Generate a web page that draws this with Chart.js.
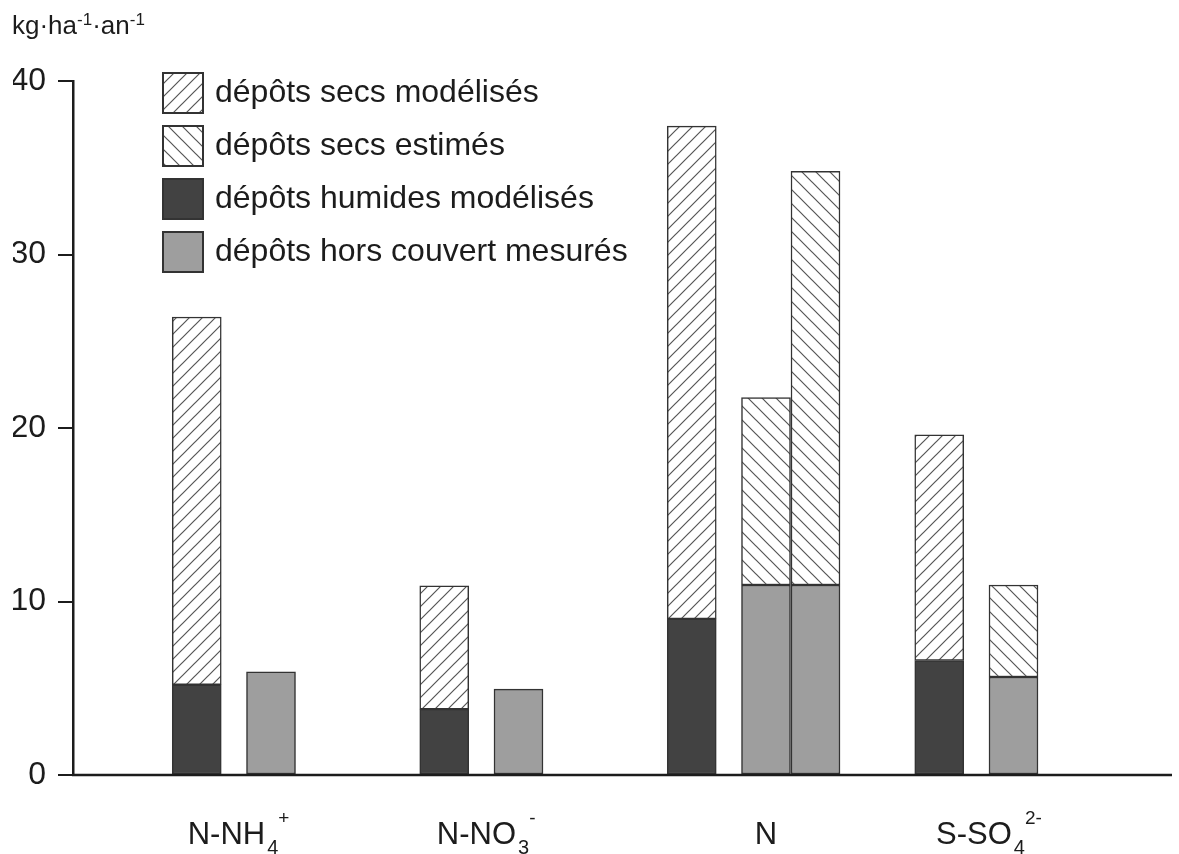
<!DOCTYPE html>
<html>
<head>
<meta charset="utf-8">
<script src="https://cdn.jsdelivr.net/npm/chart.js@4.4.0/dist/chart.umd.min.js"></script>
<style>
  html, body { margin: 0; padding: 0; background: #fff; }
  #wrap { width: 1179px; height: 854px; }
</style>
</head>
<body>
<div id="wrap"><canvas id="chart" width="1179" height="854"></canvas></div>
<script>
const categories = ['N-NH_{4}^{+}', 'N-NO_{3}^{-}', 'N', 'S-SO_{4}^{2-}'];
const yTicks = [0, 10, 20, 30, 40];
const yTitle = 'kg·ha^{-1}·an^{-1}';

// first bar of each group (humides + secs modélisés)
const humidesModelises = [5.2, 3.8, 9.0, 6.6];
const secsModelises = [21.2, 7.1, 28.4, 13.0];
// second bars (hors couvert + secs estimés), N has two of them
const horsCouvertMesures = [5.95, 4.95, 10.95, 10.95, 5.65];
const secsEstimes = [null, null, 10.8, 23.85, 5.3];

// x axis is split into narrow slots, bars sit on these slots
const slotCount = 45;
const firstBarSlots = [5, 15, 25, 35];
const secondBarSlots = [8, 18, 28, 30, 38];
const labelSlots = [6.2, 16.3, 28, 36.4];
const legendOrder = [2, 3, 0, 1];

const FONT = '"Liberation Sans", Arial, sans-serif';
const INK = '#1c1c1c';

const slotData = (values, slots) => {
    const out = new Array(slotCount).fill(null);
    slots.forEach((s, i) => { out[s] = values[i]; });
    return out;
};

const hatch = (dir, size) => {
    const c = document.createElement('canvas');
    c.width = c.height = size;
    const g = c.getContext('2d');
    g.fillStyle = '#fff';
    g.fillRect(0, 0, size, size);
    g.strokeStyle = '#555';
    g.lineWidth = 1.2;
    g.beginPath();
    if (dir === '/') {
        g.moveTo(-1, size + 1); g.lineTo(size + 1, -1);
        g.moveTo(-2, 2); g.lineTo(2, -2);
        g.moveTo(size - 2, size + 2); g.lineTo(size + 2, size - 2);
    } else {
        g.moveTo(-1, -1); g.lineTo(size + 1, size + 1);
        g.moveTo(size - 2, -2); g.lineTo(size + 2, 2);
        g.moveTo(-2, size - 2); g.lineTo(2, size + 2);
    }
    g.stroke();
    return g.createPattern(c, 'repeat');
};

// "N-NH_{4}^{+}" -> [{t:'N-NH',k:''},{t:'4',k:'sub'},{t:'+',k:'sup'}]
const parseRich = (str) => str.split(/(_\{[^}]*\}|\^\{[^}]*\})/).filter(Boolean).map(p => {
    if (p[0] === '_') return { t: p.slice(2, -1), k: 'sub' };
    if (p[0] === '^') return { t: p.slice(2, -1), k: 'sup' };
    return { t: p, k: '' };
});

const drawRich = (ctx, str, x, y, o) => {
    const parts = parseRich(str);
    const fontFor = k => (k === 'sub' ? o.sub : k === 'sup' ? o.sup : o.size) + 'px ' + FONT;
    ctx.font = fontFor('');
    let cx = o.center ? x - ctx.measureText(parts[0].t).width / 2 : x;
    let prev = '';
    parts.forEach(p => {
        ctx.font = fontFor(p.k);
        let dy = 0;
        if (p.k === 'sub') dy = o.subDy;
        if (p.k === 'sup') dy = o.supDy;
        if (p.k === 'sup' && prev === 'sub') cx -= 2;
        ctx.fillText(p.t, cx + (p.k ? o.gap : 0), y + dy);
        cx += ctx.measureText(p.t).width + (p.k ? o.gap : 0);
        prev = p.k;
    });
};

const decorations = {
    id: 'decorations',
    afterDraw(chart) {
        const { ctx, chartArea } = chart;
        const xs = chart.scales.x;
        const ys = chart.scales.y;
        ctx.save();
        ctx.fillStyle = INK;
        ctx.textBaseline = 'alphabetic';
        ctx.textAlign = 'left';

        // x axis base line
        const y0 = ys.getPixelForValue(0);
        ctx.strokeStyle = INK;
        ctx.lineWidth = 2.5;
        ctx.beginPath();
        ctx.moveTo(chartArea.left - 1, y0);
        ctx.lineTo(chart.width - 7, y0);
        ctx.stroke();

        // category labels
        categories.forEach((c, i) => {
            drawRich(ctx, c, xs.getPixelForValue(labelSlots[i]), chartArea.bottom + 69,
                { size: 31, sub: 20, sup: 19, subDy: 10, supDy: -20, gap: 2, center: true });
        });

        // unit above the y axis
        drawRich(ctx, yTitle, 12, 34, { size: 26, sub: 17, sup: 17, subDy: 5, supDy: -9, gap: 0 });

        // legend
        const lx = chartArea.left + 90;
        legendOrder.forEach((di, row) => {
            const ds = chart.data.datasets[di];
            const top = chartArea.top - 8 + row * 53;
            ctx.fillStyle = ds.backgroundColor;
            ctx.fillRect(lx, top, 40, 40);
            ctx.strokeStyle = '#333';
            ctx.lineWidth = 2;
            ctx.strokeRect(lx, top, 40, 40);
            ctx.fillStyle = INK;
            ctx.font = '32px ' + FONT;
            ctx.textBaseline = 'middle';
            ctx.fillText(ds.label, lx + 52, top + 20);
        });
        ctx.restore();
    }
};

const barStyle = { borderColor: '#333', borderWidth: 1.5, borderSkipped: false, barThickness: 49 };

new Chart(document.getElementById('chart').getContext('2d'), {
    type: 'bar',
    data: {
        labels: new Array(slotCount).fill(''),
        datasets: [
            { label: 'dépôts humides modélisés', data: slotData(humidesModelises, firstBarSlots), backgroundColor: '#424242', ...barStyle },
            { label: 'dépôts hors couvert mesurés', data: slotData(horsCouvertMesures, secondBarSlots), backgroundColor: '#9e9e9e', ...barStyle },
            { label: 'dépôts secs modélisés', data: slotData(secsModelises, firstBarSlots), backgroundColor: hatch('/', 13), ...barStyle },
            { label: 'dépôts secs estimés', data: slotData(secsEstimes, secondBarSlots), backgroundColor: hatch('\\', 14), ...barStyle }
        ]
    },
    options: {
        responsive: false,
        devicePixelRatio: 1,
        animation: false,
        layout: { padding: { left: 13, right: 17, top: 81, bottom: 79 } },
        plugins: {
            legend: { display: false },
            tooltip: { enabled: false }
        },
        scales: {
            x: {
                stacked: true,
                offset: false,
                grid: { display: false, drawTicks: false },
                border: { display: false },
                ticks: { display: false }
            },
            y: {
                stacked: true,
                min: yTicks[0],
                max: yTicks[yTicks.length - 1],
                afterBuildTicks: s => { s.ticks = yTicks.map(v => ({ value: v })); },
                afterFit: s => { s.width = 60; },
                grid: { drawOnChartArea: false, tickLength: 15, color: INK, lineWidth: 2 },
                border: { color: INK, width: 2.5 },
                ticks: { color: INK, padding: 12, font: { size: 32, family: FONT } }
            }
        }
    },
    plugins: [decorations]
});
</script>
</body>
</html>
